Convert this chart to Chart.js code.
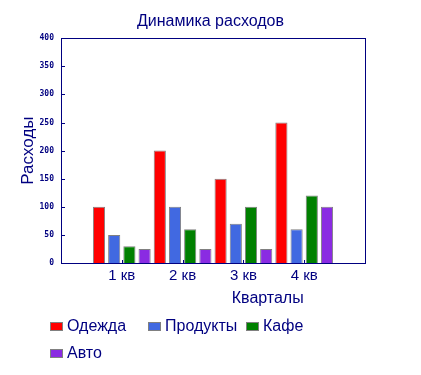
<!DOCTYPE html>
<html>
<head>
<meta charset="utf-8">
<script src="https://cdn.jsdelivr.net/npm/chart.js@4.4.0/dist/chart.umd.min.js"></script>
<style>
  html, body { margin: 0; padding: 0; background: #fff; }
  #wrap { width: 421px; height: 375px; }
</style>
</head>
<body>
<div id="wrap"><canvas id="chart" width="421" height="375"></canvas></div>
<script>
// data
const quarters = ['1 кв', '2 кв', '3 кв', '4 кв'];
const clothes = [100, 200, 150, 250];
const food = [50, 100, 70, 60];
const cafe = [30, 60, 100, 120];
const car = [25, 25, 25, 100];
const seriesNames = ['Одежда', 'Продукты', 'Кафе', 'Авто'];
const seriesColors = ['#ff0000', '#4169e1', '#008000', '#8a2be2'];
const yTicks = [0, 50, 100, 150, 200, 250, 300, 350, 400];

const navy = '#000080';
const fontName = '"Liberation Sans", Arial, sans-serif';

// empty slot on each side so the groups sit like in the original
const labels = [''].concat(quarters, ['']);
function pad(arr) { return [null].concat(arr, [null]); }

const datasets = [clothes, food, cafe, car].map(function (vals, i) {
    return {
        label: seriesNames[i],
        data: pad(vals),
        backgroundColor: seriesColors[i],
        borderColor: '#808080',
        borderWidth: 1,
        barPercentage: 0.8,
        categoryPercentage: 1.0
    };
});

// frame, inner tick marks, x title and the grid-like legend
const decorPlugin = {
    id: 'decor',
    afterDraw: function (chart) {
        const ctx = chart.ctx;
        const a = chart.chartArea;
        const xs = chart.scales.x;
        const ys = chart.scales.y;
        ctx.save();
        ctx.strokeStyle = navy;
        ctx.lineWidth = 1;
        ctx.strokeRect(Math.round(a.left) + 0.5, Math.round(a.top) + 0.5,
            Math.round(a.right - a.left), Math.round(a.bottom - a.top));

        // y ticks point inside
        ctx.beginPath();
        yTicks.forEach(function (v) {
            const y = Math.round(ys.getPixelForValue(v)) + 0.5;
            ctx.moveTo(a.left, y);
            ctx.lineTo(a.left + 4, y);
        });
        // x ticks point up
        quarters.forEach(function (q, i) {
            const x = Math.round(xs.getPixelForValue(i + 1)) + 0.5;
            ctx.moveTo(x, a.bottom);
            ctx.lineTo(x, a.bottom - 3);
        });
        ctx.stroke();

        // x axis title
        ctx.fillStyle = navy;
        ctx.font = '16px ' + fontName;
        ctx.textAlign = 'center';
        ctx.textBaseline = 'middle';
        ctx.fillText('Кварталы', a.left + (a.right - a.left) * 0.68, 299);

        // legend, three columns
        ctx.textAlign = 'left';
        chart.data.datasets.forEach(function (ds, i) {
            const col = i % 3;
            const row = Math.floor(i / 3);
            const x = 50 + col * 98;
            const y = 326 + row * 27;
            ctx.fillStyle = ds.backgroundColor;
            ctx.fillRect(x, y - 4, 13, 9);
            ctx.strokeStyle = '#808080';
            ctx.strokeRect(x + 0.5, y - 4 + 0.5, 12, 8);
            ctx.fillStyle = navy;
            ctx.fillText(ds.label, x + 17, y + 1);
        });
        ctx.restore();
    }
};

new Chart(document.getElementById('chart'), {
    type: 'bar',
    data: { labels: labels, datasets: datasets },
    options: {
        responsive: false,
        animation: false,
        layout: { padding: 0 },
        plugins: {
            legend: { display: false },
            tooltip: { enabled: false },
            title: {
                display: true,
                text: 'Динамика расходов',
                color: navy,
                font: { family: fontName, size: 16, weight: 'normal' },
                padding: { top: 12, bottom: 7 }
            }
        },
        scales: {
            x: {
                offset: false,
                grid: { display: false, drawTicks: false },
                border: { display: false },
                ticks: {
                    color: navy,
                    font: { family: fontName, size: 15 },
                    padding: 4,
                    maxRotation: 0,
                    autoSkip: false
                },
                afterFit: function (scale) { scale.height = 112; }
            },
            y: {
                min: 0,
                max: 400,
                grid: { display: false, drawTicks: false },
                border: { display: false },
                ticks: {
                    stepSize: 50,
                    color: navy,
                    font: { family: '"DejaVu Sans Mono", monospace', size: 8, weight: 'bold' },
                    padding: 7
                },
                title: {
                    display: true,
                    text: 'Расходы',
                    color: navy,
                    font: { family: fontName, size: 17 },
                    padding: { top: 18, bottom: 0 }
                },
                afterFit: function (scale) { scale.width = 61; }
            },
            // empty right axis only keeps the space on the right
            yRight: {
                position: 'right',
                min: 0,
                max: 400,
                grid: { display: false, drawTicks: false },
                border: { display: false },
                ticks: { display: false },
                afterFit: function (scale) { scale.width = 56; }
            }
        }
    },
    plugins: [decorPlugin]
});
</script>
</body>
</html>
